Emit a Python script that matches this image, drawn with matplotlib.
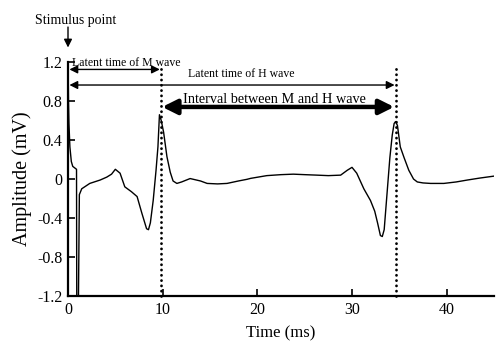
import matplotlib
matplotlib.use("Agg")
import matplotlib.pyplot as plt

plt.rcParams['font.family'] = ['Liberation Serif', 'DejaVu Serif']

# H-reflex recording (time in ms, amplitude in mV)
time_ms = [0.0, 0.05, 0.1, 0.2, 0.35, 0.5, 0.9, 0.93, 1.08, 1.2, 1.45,
           2.3, 3.4, 4.1, 4.6, 5.0, 5.5, 6.0, 6.7, 7.3, 7.8, 8.3, 8.5, 8.7,
           9.0, 9.3, 9.5, 9.66, 9.85, 10.1, 10.45, 10.8, 11.1, 11.5, 12.0,
           12.9, 14.0, 14.7, 15.8, 16.8, 18.0, 18.9, 19.3, 21.0, 22.5, 23.8,
           25.0, 26.3, 27.5, 28.8, 29.5, 30.0, 30.5, 31.25, 31.95, 32.4,
           32.7, 33.0, 33.2, 33.4, 33.7, 34.0, 34.25, 34.45, 34.6, 34.8,
           35.1, 35.5, 36.0, 36.5, 36.9, 37.5, 38.3, 39.7, 41.0, 42.2, 43.5, 45.0]
amp_mv = [1.3, 0.8, 0.57, 0.33, 0.18, 0.13, 0.1, -1.5, -1.5, -0.16, -0.1,
          -0.045, -0.01, 0.02, 0.05, 0.1, 0.06, -0.08, -0.13, -0.18, -0.35, -0.51, -0.52, -0.45,
          -0.22, 0.09, 0.33, 0.66, 0.6, 0.48, 0.23, 0.07, -0.02, -0.045, -0.03,
          0.005, -0.02, -0.045, -0.05, -0.045, -0.02, -0.003, 0.007, 0.035, 0.045, 0.05,
          0.045, 0.04, 0.035, 0.04, 0.09, 0.12, 0.06, -0.1, -0.22, -0.33,
          -0.45, -0.58, -0.59, -0.52, -0.15, 0.22, 0.45, 0.57, 0.59, 0.55,
          0.33, 0.22, 0.09, 0.0, -0.03, -0.04, -0.045, -0.045, -0.03, -0.01, 0.01, 0.03]

m_wave_t = 9.85
h_wave_t = 34.65

fig = plt.figure(figsize=(5.0, 3.49), dpi=100)
ax = fig.add_axes([0.136, 0.152, 0.852, 0.67])

ax.plot(time_ms, amp_mv, color='black', lw=1.0)

# onset markers of the M and H waves (round dots)
for tv in (m_wave_t, h_wave_t):
    ax.plot([tv, tv], [-1.2, 1.14], color='black', lw=2.0,
            linestyle=(0, (0.05, 1.85)), dash_capstyle='round', clip_on=False)

ax.set_xlim(0, 45)
ax.set_ylim(-1.2, 1.2)
ax.set_xticks([0, 10, 20, 30, 40])
ax.set_yticks([-1.2, -0.8, -0.4, 0, 0.4, 0.8, 1.2])
ax.set_yticklabels(['-1.2', '-0.8', '-0.4', '0', '0.4', '0.8', '1.2'])
ax.tick_params(direction='in', length=5, width=1.2, labelsize=11.5, pad=4)
ax.spines['top'].set_visible(False)
ax.spines['right'].set_visible(False)
ax.spines['left'].set_linewidth(1.6)
ax.spines['bottom'].set_linewidth(1.6)
ax.set_xlabel('Time (ms)', fontsize=12, labelpad=6)
ax.set_ylabel('Amplitude (mV)', fontsize=14.5, labelpad=4)

thin = dict(arrowstyle='<|-|>', color='black', lw=1.0,
            mutation_scale=12, shrinkA=0, shrinkB=0)
ax.annotate('', xy=(0.15, 1.125), xytext=(m_wave_t - 0.15, 1.125),
            arrowprops=thin, annotation_clip=False)
ax.text(0.45, 1.19, 'Latent time of M wave', fontsize=8.5, va='center',
        ha='left')

ax.annotate('', xy=(0.15, 0.965), xytext=(h_wave_t - 0.15, 0.965),
            arrowprops=thin, annotation_clip=False)
ax.text(18.3, 1.08, 'Latent time of H wave', fontsize=8.5, va='center',
        ha='center')

thick = dict(arrowstyle='<|-|>', color='black', lw=3.2,
             mutation_scale=22, shrinkA=0, shrinkB=0)
ax.annotate('', xy=(m_wave_t + 0.1, 0.74), xytext=(h_wave_t - 0.2, 0.74),
            arrowprops=thick, annotation_clip=False)
ax.text(21.8, 0.82, 'Interval between M and H wave', fontsize=10.3,
        va='center', ha='center')

# stimulus marker above the plot
ax.text(0.85, 1.63, 'Stimulus point', fontsize=10, ha='center', va='center',
        clip_on=False)
ax.annotate('', xy=(0, 1.35), xytext=(0, 1.56),
            arrowprops=dict(arrowstyle='-|>', color='black', lw=1.0,
                            mutation_scale=12, shrinkA=0, shrinkB=0),
            annotation_clip=False)

fig.savefig('out.png', dpi=100)
